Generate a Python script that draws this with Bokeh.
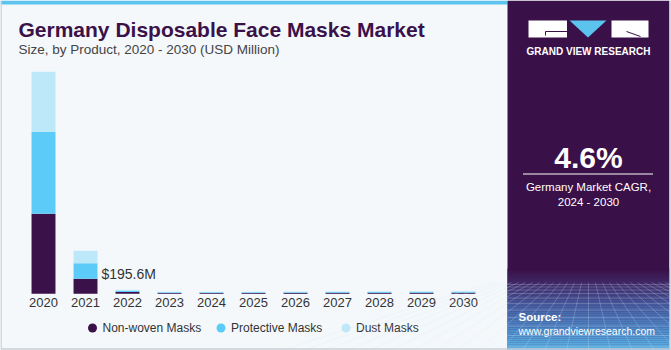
from bokeh.plotting import figure
from bokeh.models import Range1d, ColumnDataSource
from bokeh.embed import file_html
from bokeh.resources import INLINE
from bokeh.core.properties import value

# ---------------- data ----------------
years = [2020, 2021, 2022, 2023, 2024, 2025, 2026, 2027, 2028, 2029, 2030]
year_labels = ["2020", "2021", "2022", "2023", "2024", "2025", "2026", "2027", "2028", "2029", "2030"]
series = ["Non-woven Masks", "Protective Masks", "Dust Masks"]
nonwoven = [364.0, 68.3, 8.6, 3.6, 3.8, 3.9, 4.1, 4.3, 4.5, 4.7, 4.9]
protective = [373.0, 71.0, 5.4, 3.0, 3.1, 3.3, 3.4, 3.6, 3.8, 3.9, 4.1]
dust = [273.0, 56.3, 4.1, 2.4, 2.5, 2.6, 2.7, 2.9, 3.0, 3.1, 3.3]
colors = ["#3B1149", "#5DCBF8", "#BDE8F9"]
label_year = 2021
label_text = "$195.6M"
cagr_text = "4.6%"

FONT = value("Liberation Sans")

src = ColumnDataSource(dict(year=years, label=year_labels,
                            **{series[0]: nonwoven, series[1]: protective, series[2]: dust}))

p = figure(width=671, height=350, x_range=Range1d(0, 671), y_range=Range1d(350, 0),
           output_backend="svg", toolbar_location=None, min_border=0,
           x_axis_location=None, y_axis_location=None,
           background_fill_color="#F4F8FB", border_fill_color="#F4F8FB",
           outline_line_color=None)
p.grid.visible = False
p.extra_x_ranges = {"yr": Range1d(2018.976, 2034.952)}
p.extra_y_ranges = {"val": Range1d(-258.0, 1334.5)}

# top stripe
p.quad(left=0, right=507, top=0, bottom=4, fill_color="#5BC3EE", line_color=None)

# title
p.text(x=[18], y=[28.5], text=["Germany Disposable Face Masks Market"], text_font=FONT,
       text_font_size="21px", text_font_style="bold", text_color="#3B1149",
       text_baseline="middle")
p.text(x=[18], y=[48.5], text=["Size, by Product, 2020 - 2030 (USD Million)"], text_font=FONT,
       text_font_size="13.5px", text_color="#444444", text_baseline="middle")

# bars
p.vbar_stack(series, x="year", width=0.57, color=colors, source=src,
             x_range_name="yr", y_range_name="val", line_color=None)

# year labels
p.text(x="year", y=302, text="label", source=src, x_range_name="yr",
       text_font=FONT, text_font_size="13px", text_color="#333333",
       text_align="center", text_baseline="middle")

# value label
tot = nonwoven[1] + protective[1] + dust[1]
p.text(x=[label_year + 0.38], y=[tot * 0.45], text=[label_text], x_range_name="yr", y_range_name="val",
       text_font=FONT, text_font_size="14px", text_color="#333333",
       text_align="left", text_baseline="middle")

# legend
lx = [92, 220.5, 345.5]
p.scatter(x=lx, y=[327.5] * 3, size=9, fill_color=colors, line_color=None)
p.text(x=[v + 10 for v in lx], y=[327.5] * 3, text=series, text_font=FONT,
       text_font_size="12px", text_color="#333333", text_baseline="middle")

# ---------------- right panel ----------------
p.quad(left=507, right=669, top=0, bottom=350, fill_color="#3A1048", line_color=None)


def lerp(c1, c2, t):
    a = [int(c1[i:i + 2], 16) for i in (1, 3, 5)]
    b = [int(c2[i:i + 2], 16) for i in (1, 3, 5)]
    return "#%02x%02x%02x" % tuple(int(round(a[i] + (b[i] - a[i]) * t)) for i in range(3))


stops = [(268, "#3A1048"), (285, "#413070"), (305, "#4660A4"), (330, "#4F8DCB"), (350, "#5CBAEC")]
for (y0, c0), (y1, c1) in zip(stops[:-1], stops[1:]):
    y = y0
    while y < y1:
        t = (y - y0) / (y1 - y0)
        p.quad(left=[507], right=[669], top=[y], bottom=[y + 2.2], fill_color=lerp(c0, c1, t),
               line_color=None)
        y += 2

# perspective grid
hy = [284, 286.5, 289.5, 293, 297.5, 303, 309.5, 317, 325.5, 335, 346]
xs, ys = [], []
for y in hy:
    xs.append([507, 669]); ys.append([y, y])
for k in range(-14, 15):
    xs.append([588 + k * 7, 588 + k * 22]); ys.append([282, 350])
p.multi_line(xs=xs, ys=ys, line_color="#D6E6F8", line_alpha=0.3, line_width=0.8)
p.quad(left=669, right=671, top=0, bottom=350, fill_color="#F4F8FB", line_color=None)

# logo
p.quad(left=[528, 611], right=[566.5, 648], top=[20, 20], bottom=[37, 37],
       fill_color="white", line_color=None)
p.patch(x=[569, 606, 587.5], y=[20, 20, 37], fill_color="#5BC3EE", line_color=None)
p.multi_line(xs=[[545, 566.5], [545, 545], [626, 640]], ys=[[31, 31], [31, 35], [31, 36]],
             line_color="#3A1048", line_width=1)
p.text(x=[588], y=[51], text=["GRAND VIEW RESEARCH"], text_font=FONT,
       text_font_size="10px", text_font_style="bold", text_color="white",
       text_align="center", text_baseline="middle")

# CAGR block
p.text(x=[588], y=[157], text=[cagr_text], text_font=FONT, text_font_size="30px",
       text_font_style="bold", text_color="white", text_align="center", text_baseline="middle")
p.line(x=[522.5, 652.5], y=[173.5, 173.5], line_color="white", line_width=1)
p.text(x=[588, 588], y=[186, 201.5], text=["Germany Market CAGR,", "2024 - 2030"], text_font=FONT,
       text_font_size="11.5px", text_color="white", text_align="center", text_baseline="middle")

# source
p.text(x=[518], y=[316], text=["Source:"], text_font=FONT, text_font_size="11.5px",
       text_font_style="bold", text_color="white", text_baseline="middle")
p.text(x=[518], y=[330], text=["www.grandviewresearch.com"], text_font=FONT, text_font_size="10.5px",
       text_color="white", text_baseline="middle")

# outer border
p.line(x=[0.5, 0.5, 670.5, 670.5], y=[0, 348.5, 348.5, 0], line_color="#C9CED4", line_width=1.5)

open("out.html", "w").write(file_html(p, INLINE))
